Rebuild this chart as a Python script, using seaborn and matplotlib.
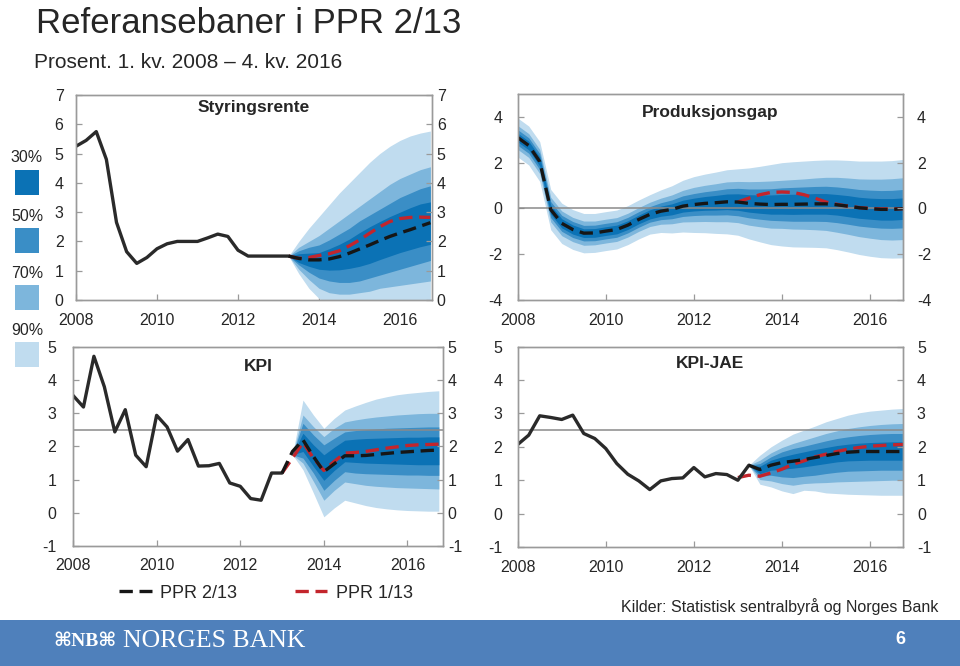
import numpy as np
import pandas as pd
import seaborn as sns
import matplotlib.pyplot as plt
from matplotlib.patches import Rectangle
from matplotlib.lines import Line2D

# quarterly time axis 2008Q1 - 2016Q4
quarters = pd.period_range("2008Q1", "2016Q4", freq="Q")
t = np.asarray(quarters.year + (quarters.quarter - 1) / 4, dtype=float)

# --- Styringsrente (history 2008Q1-2013Q2, projections 2013Q2-2016Q4) ---
policy_hist = [5.25, 5.45, 5.75, 4.8, 2.65, 1.65, 1.25, 1.45, 1.75, 1.92, 2.0,
               2.0, 2.0, 2.12, 2.25, 2.17, 1.7, 1.5, 1.5, 1.5, 1.5, 1.5]
policy_ppr2 = [1.5, 1.42, 1.37, 1.37, 1.4, 1.48, 1.6, 1.74, 1.88, 2.03, 2.17,
               2.29, 2.4, 2.52, 2.64]
policy_ppr1 = [1.5, 1.42, 1.45, 1.52, 1.58, 1.68, 1.85, 2.05, 2.28, 2.5, 2.68,
               2.78, 2.82, 2.83, 2.82]
policy_90_hi = [1.5, 2.0, 2.45, 2.85, 3.25, 3.65, 4.0, 4.35, 4.7, 5.0, 5.25, 5.45, 5.6, 5.7, 5.77]
policy_90_lo = [1.5, 0.9, 0.4, 0.05, -0.2, -0.3, -0.35, -0.35, -0.3, -0.3, -0.3, -0.3, -0.3, -0.3, -0.3]
policy_70_hi = [1.5, 1.8, 2.0, 2.2, 2.45, 2.7, 2.95, 3.2, 3.45, 3.7, 3.95, 4.15, 4.3, 4.45, 4.55]
policy_70_lo = [1.5, 1.05, 0.7, 0.4, 0.25, 0.2, 0.2, 0.25, 0.3, 0.4, 0.45, 0.5, 0.55, 0.6, 0.65]
policy_50_hi = [1.5, 1.68, 1.8, 1.88, 2.05, 2.25, 2.45, 2.7, 2.9, 3.1, 3.3, 3.5, 3.65, 3.8, 3.9]
policy_50_lo = [1.5, 1.2, 0.95, 0.75, 0.65, 0.6, 0.6, 0.65, 0.75, 0.85, 0.95, 1.05, 1.15, 1.25, 1.35]
policy_30_hi = [1.5, 1.58, 1.6, 1.62, 1.75, 1.9, 2.08, 2.3, 2.5, 2.68, 2.85, 3.0, 3.15, 3.28, 3.35]
policy_30_lo = [1.5, 1.28, 1.15, 1.05, 1.02, 1.03, 1.08, 1.15, 1.25, 1.38, 1.5, 1.62, 1.72, 1.82, 1.9]

# --- Produksjonsgap (whole period with uncertainty) ---
gap_ppr2 = [3.1, 2.75, 2.05, -0.05, -0.65, -0.92, -1.08, -1.07, -0.99, -0.92,
            -0.73, -0.48, -0.26, -0.12, -0.04, 0.1, 0.17, 0.22, 0.25, 0.29,
            0.28, 0.22, 0.19, 0.17, 0.18, 0.18, 0.19, 0.2, 0.2, 0.16,
            0.1, 0.03, -0.01, -0.04, -0.04, -0.01]
gap_ppr1 = [0.28, 0.45, 0.6, 0.7, 0.72, 0.7, 0.6, 0.45, 0.28, 0.18, 0.1, 0.04,
            0.0, -0.02, -0.02, -0.01]
gap_hw90 = [0.85, 0.85, 0.87, 0.88, 0.88, 0.87, 0.86, 0.85, 0.85, 0.85, 0.85, 0.85,
            0.86, 0.93, 1.03, 1.13, 1.22, 1.28, 1.34, 1.4, 1.45, 1.55, 1.65, 1.75,
            1.82, 1.86, 1.88, 1.9, 1.92, 1.96, 2.0, 2.04, 2.08, 2.11, 2.13, 2.15]
gap_hw70 = [0.52, 0.52, 0.53, 0.54, 0.54, 0.53, 0.53, 0.52, 0.52, 0.52, 0.52, 0.52,
            0.53, 0.57, 0.63, 0.69, 0.75, 0.79, 0.83, 0.87, 0.9, 0.95, 0.99, 1.03,
            1.05, 1.08, 1.1, 1.13, 1.16, 1.2, 1.23, 1.26, 1.29, 1.32, 1.34, 1.35]
gap_hw50 = [0.34, 0.34, 0.35, 0.35, 0.35, 0.35, 0.34, 0.34, 0.34, 0.34, 0.34, 0.34,
            0.34, 0.37, 0.41, 0.45, 0.48, 0.51, 0.54, 0.57, 0.6, 0.63, 0.66, 0.69,
            0.72, 0.74, 0.75, 0.76, 0.77, 0.78, 0.79, 0.8, 0.81, 0.82, 0.83, 0.84]
gap_hw30 = [0.19, 0.19, 0.2, 0.2, 0.2, 0.2, 0.19, 0.19, 0.19, 0.19, 0.19, 0.19,
            0.2, 0.22, 0.24, 0.26, 0.28, 0.3, 0.32, 0.34, 0.36, 0.38, 0.4, 0.42,
            0.43, 0.44, 0.44, 0.45, 0.45, 0.45, 0.46, 0.46, 0.46, 0.47, 0.47, 0.47]

# --- KPI (history 2008Q1-2013Q1) ---
cpi_hist = [3.54, 3.19, 4.72, 3.8, 2.44, 3.11, 1.74, 1.39, 2.94, 2.59, 1.86,
            2.21, 1.41, 1.42, 1.49, 0.9, 0.8, 0.43, 0.38, 1.2, 1.2]
cpi_ppr2 = [1.2, 1.85, 2.2, 1.7, 1.24, 1.48, 1.72, 1.72, 1.73, 1.76, 1.79, 1.82,
            1.84, 1.86, 1.88, 1.89]
cpi_ppr1 = [1.2, 1.65, 2.12, 1.65, 1.28, 1.55, 1.8, 1.82, 1.85, 1.9, 1.95, 1.99,
            2.03, 2.05, 2.06, 2.07]
cpi_90_hi = [1.75, 3.4, 2.95, 2.55, 2.85, 3.1, 3.22, 3.33, 3.43, 3.5, 3.56, 3.6, 3.63, 3.66, 3.68]
cpi_90_lo = [1.75, 1.3, 0.6, -0.12, 0.15, 0.38, 0.3, 0.22, 0.16, 0.12, 0.09, 0.07, 0.06, 0.05, 0.05]
cpi_70_hi = [1.75, 2.95, 2.6, 2.3, 2.55, 2.74, 2.8, 2.85, 2.89, 2.92, 2.95, 2.97, 2.99, 3.0, 3.0]
cpi_70_lo = [1.75, 1.5, 0.95, 0.38, 0.68, 0.93, 0.88, 0.83, 0.8, 0.78, 0.76, 0.75, 0.74, 0.73, 0.72]
cpi_50_hi = [1.75, 2.7, 2.35, 2.05, 2.25, 2.44, 2.48, 2.51, 2.53, 2.55, 2.56, 2.57, 2.58, 2.59, 2.59]
cpi_50_lo = [1.75, 1.65, 1.2, 0.68, 0.98, 1.24, 1.2, 1.18, 1.17, 1.16, 1.15, 1.14, 1.14, 1.13, 1.13]
cpi_30_hi = [1.75, 2.4, 2.05, 1.75, 1.98, 2.19, 2.22, 2.24, 2.25, 2.26, 2.27, 2.28, 2.28, 2.29, 2.29]
cpi_30_lo = [1.75, 1.85, 1.4, 0.98, 1.28, 1.54, 1.52, 1.5, 1.49, 1.48, 1.47, 1.46, 1.45, 1.45, 1.45]

# --- KPI-JAE (history 2008Q1-2013Q2) ---
core_hist = [2.07, 2.35, 2.93, 2.88, 2.82, 2.95, 2.4, 2.25, 1.95, 1.5, 1.18,
             0.98, 0.72, 0.98, 1.05, 1.07, 1.38, 1.1, 1.2, 1.17, 1.0, 1.45]
core_ppr2 = [1.45, 1.32, 1.45, 1.53, 1.57, 1.62, 1.68, 1.74, 1.8, 1.84, 1.86,
             1.86, 1.86, 1.86, 1.86]
core_ppr1 = [1.08, 1.15, 1.12, 1.22, 1.33, 1.48, 1.58, 1.7, 1.78, 1.86, 1.93,
             1.98, 2.02, 2.04, 2.06, 2.07]
core_90_hi = [1.45, 1.75, 2.0, 2.2, 2.38, 2.5, 2.62, 2.75, 2.85, 2.95, 3.02, 3.07, 3.1, 3.13, 3.15]
core_90_lo = [1.45, 0.88, 0.8, 0.68, 0.6, 0.7, 0.68, 0.62, 0.6, 0.58, 0.57, 0.56, 0.55, 0.55, 0.55]
core_70_hi = [1.45, 1.6, 1.82, 1.98, 2.1, 2.2, 2.3, 2.4, 2.48, 2.55, 2.6, 2.64, 2.67, 2.69, 2.7]
core_70_lo = [1.45, 1.02, 0.98, 0.9, 0.85, 0.9, 0.92, 0.93, 0.95, 0.96, 0.97, 0.98, 0.99, 1.0, 1.0]
core_50_hi = [1.45, 1.5, 1.7, 1.85, 1.95, 2.02, 2.1, 2.18, 2.25, 2.3, 2.34, 2.37, 2.39, 2.4, 2.4]
core_50_lo = [1.45, 1.12, 1.15, 1.1, 1.08, 1.12, 1.15, 1.2, 1.24, 1.27, 1.28, 1.29, 1.3, 1.3, 1.3]
core_30_hi = [1.45, 1.42, 1.6, 1.7, 1.78, 1.85, 1.92, 1.98, 2.04, 2.08, 2.11, 2.13, 2.14, 2.15, 2.15]
core_30_lo = [1.45, 1.2, 1.3, 1.33, 1.36, 1.4, 1.45, 1.5, 1.55, 1.58, 1.59, 1.6, 1.6, 1.6, 1.6]

band_labels = ["30%", "50%", "70%", "90%"]
band_colors = ["#0b72b5", "#3a8ec6", "#7db6dc", "#c0dcef"]   # 30, 50, 70, 90

BLACK = "#161616"
RED = "#c3252c"
GREY = "#9a9a9a"
W, H = 960, 666

sns.set_theme(style="ticks")
plt.rcParams["font.family"] = ["Liberation Sans", "DejaVu Sans"]
plt.rcParams["axes.unicode_minus"] = False

fig = plt.figure(figsize=(W / 100, H / 100), dpi=100)


def make_ax(left, top, right, bottom):
    return fig.add_axes([left / W, 1 - bottom / H, (right - left) / W, (bottom - top) / H])


def fan(ax, x, bands):
    # bands given from widest (90%) to narrowest (30%)
    for (lo, hi), col in zip(bands, band_colors[::-1]):
        ax.fill_between(x, lo, hi, color=col, linewidth=0, zorder=1)


def line(ax, x, y, color, dashed=True, z=4):
    sns.lineplot(x=x, y=y, ax=ax, color=color, lw=2.4,
                 ls=(0, (4, 2)) if dashed else "-", zorder=z, legend=False)


def style(ax, ylim, yticks, xmax, title, ty, lpad, rpad):
    ax.set_xlim(2008, xmax)
    ax.set_ylim(*ylim)
    ax.set_xticks([2008, 2010, 2012, 2014, 2016])
    ax.set_yticks(yticks)
    ax.set_xlabel("")
    ax.set_ylabel("")
    ax.tick_params(direction="in", length=4, width=0.9, color=GREY, labelsize=11.5)
    ax.tick_params(axis="x", pad=9)
    ax.tick_params(axis="y", pad=lpad)
    ax2 = ax.twinx()
    ax2.set_ylim(*ylim)
    ax2.set_yticks(yticks)
    ax2.tick_params(direction="in", length=4, width=0.9, color=GREY, labelsize=11.5, pad=rpad)
    for a in (ax, ax2):
        for s in a.spines.values():
            s.set_color(GREY)
            s.set_linewidth(1.0)
    ax.text(0.5, ty, title, transform=ax.transAxes, ha="center", va="center",
            fontsize=12.5, fontweight="bold")


# Styringsrente
ax = make_ax(76, 95, 432, 300)
fan(ax, t[21:], [(policy_90_lo, policy_90_hi), (policy_70_lo, policy_70_hi),
                 (policy_50_lo, policy_50_hi), (policy_30_lo, policy_30_hi)])
line(ax, t[:22], policy_hist, "#2a2a2a", dashed=False)
line(ax, t[21:], policy_ppr1, RED, z=3)
line(ax, t[21:], policy_ppr2, BLACK)
style(ax, (0, 7), range(0, 8), 2016.79, "Styringsrente", 0.937, 9, 3.5)

# Produksjonsgap
ax = make_ax(517.7, 94, 903, 300)
gc = np.array(gap_ppr2)
fan(ax, t, [(gc - np.array(h), gc + np.array(h)) for h in (gap_hw90, gap_hw70, gap_hw50, gap_hw30)])
ax.axhline(0, color="#8a8a8a", lw=1.1, zorder=2)
line(ax, t[20:], gap_ppr1, RED, z=3)
line(ax, t, gap_ppr2, BLACK)
style(ax, (-4, 5), range(-4, 5, 2), 2016.75, "Produksjonsgap", 0.908, 11, 10)

# KPI
ax = make_ax(73, 347, 443, 546)
fan(ax, t[21:], [(cpi_90_lo, cpi_90_hi), (cpi_70_lo, cpi_70_hi),
                 (cpi_50_lo, cpi_50_hi), (cpi_30_lo, cpi_30_hi)])
ax.axhline(2.5, color="#8a8a8a", lw=1.1, zorder=2)
line(ax, t[:21], cpi_hist, "#2a2a2a", dashed=False)
line(ax, t[20:], cpi_ppr1, RED, z=3)
line(ax, t[20:], cpi_ppr2, BLACK)
style(ax, (-1, 5), range(-1, 6), 2016.85, "KPI", 0.9, 12, 3.5)

# KPI-JAE
ax = make_ax(517.7, 346.7, 903, 547)
fan(ax, t[21:], [(core_90_lo, core_90_hi), (core_70_lo, core_70_hi),
                 (core_50_lo, core_50_hi), (core_30_lo, core_30_hi)])
ax.axhline(2.5, color="#8a8a8a", lw=1.1, zorder=2)
line(ax, t[:22], core_hist, "#2a2a2a", dashed=False)
line(ax, t[20:], core_ppr1, RED, z=3)
line(ax, t[21:], core_ppr2, BLACK)
style(ax, (-1, 5), range(-1, 6), 2016.75, "KPI-JAE", 0.915, 11, 10)

# titles
fig.text(36 / W, 1 - 33 / H, "Referansebaner i PPR 2/13", fontsize=25, va="baseline")
fig.text(34 / W, 1 - 68 / H, "Prosent. 1. kv. 2008 \u2013 4. kv. 2016", fontsize=15, va="baseline")

# band legend on the left
for i, (lab, col) in enumerate(zip(band_labels, band_colors)):
    top = [170, 228, 285, 342][i]
    fig.text(27 / W, 1 - [158, 217, 274, 331][i] / H, lab, fontsize=11.5,
             ha="center", va="center")
    fig.add_artist(Rectangle((15 / W, 1 - (top + 25) / H), 24 / W, 25 / H,
                             transform=fig.transFigure, color=col, lw=0))

# line legend
handles = [Line2D([], [], color=BLACK, lw=2.4, ls=(0, (4, 2))),
           Line2D([], [], color=RED, lw=2.4, ls=(0, (4, 2)))]
fig.legend(handles, ["PPR 2/13", "PPR 1/13"], loc="center", ncol=2,
           bbox_to_anchor=(266 / W, 1 - 593 / H), frameon=False, fontsize=13,
           handlelength=1.8, handletextpad=0.45, columnspacing=3.2)

fig.text(938 / W, 1 - 607 / H, "Kilder: Statistisk sentralbyr\u00e5 og Norges Bank",
         fontsize=11.5, ha="right", va="center")

# footer bar
fig.add_artist(Rectangle((0, 0), 1, 46 / H, transform=fig.transFigure,
                         color="#4f80bb", lw=0, zorder=0))
fig.text(53 / W, 1 - 641 / H, "\u2318NB\u2318", color="white", fontsize=14,
         fontweight="bold", va="center", family=["Liberation Serif", "DejaVu Sans"])
fig.text(123 / W, 1 - 641 / H, "NORGES BANK", color="white", fontsize=18.5,
         va="center", family=["Liberation Serif", "DejaVu Serif"])
fig.text(900 / W, 1 - 640 / H, "6", color="white", fontsize=13,
         fontweight="bold", ha="center", va="center")

fig.savefig("out.png", dpi=100)
